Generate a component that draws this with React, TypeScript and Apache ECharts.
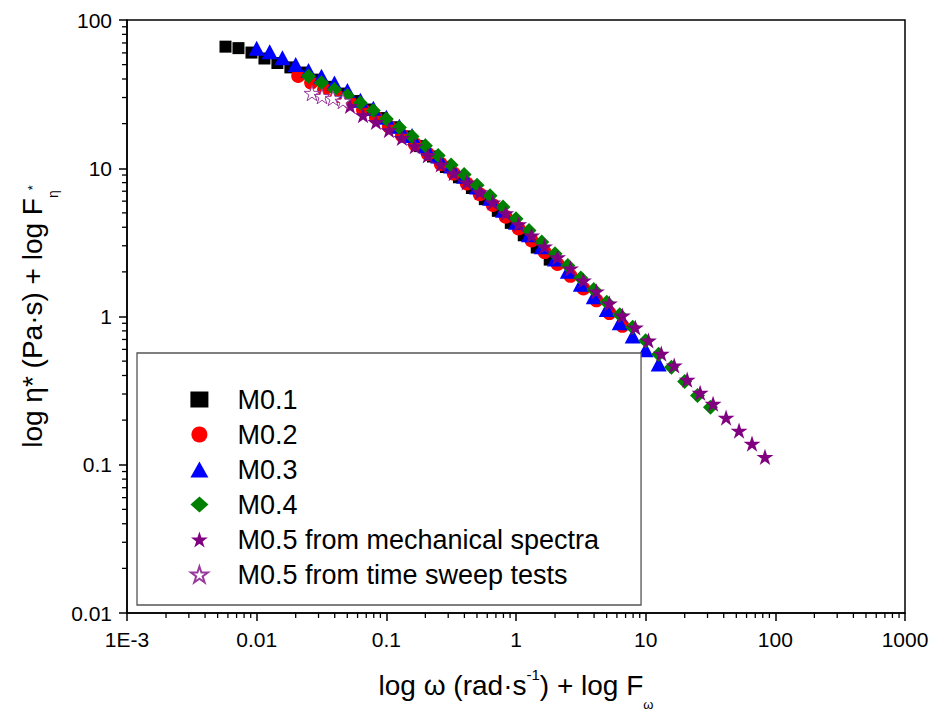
import React, { useEffect, useRef } from "react";
import * as echarts from "echarts";

const xTickLabels = ["1E-3", "0.01", "0.1", "1", "10", "100", "1000"];
const yTickLabels = ["0.01", "0.1", "1", "10", "100"];
const xDecades = [0.001, 0.01, 0.1, 1, 10, 100];
const yDecades = [0.01, 0.1, 1, 10];
const minorFactors = [2, 3, 4, 5, 6, 7, 8, 9];

const seriesNames = [
  "M0.1",
  "M0.2",
  "M0.3",
  "M0.4",
  "M0.5 from mechanical spectra",
  "M0.5 from time sweep tests",
];

const m01X = [0.00575, 0.00724, 0.00912, 0.01148, 0.01445, 0.0182, 0.0229, 0.0288, 0.0363, 0.0457, 0.0575, 0.0724, 0.0912, 0.1148, 0.1445, 0.182, 0.229, 0.288, 0.363, 0.457, 0.575, 0.724, 0.912, 1.148, 1.445, 1.82];
const m01Y = [66.1, 64.6, 60.3, 55.0, 51.3, 47.9, 44.2, 39.6, 35.4, 31.9, 28.4, 24.9, 21.8, 18.9, 16.4, 14.1, 12.0, 10.2, 8.69, 7.36, 6.19, 5.16, 4.28, 3.53, 2.92, 2.42];

const m02X = [0.0209, 0.0263, 0.0331, 0.0417, 0.0525, 0.0661, 0.0832, 0.1047, 0.132, 0.166, 0.209, 0.263, 0.331, 0.417, 0.525, 0.661, 0.832, 1.047, 1.318, 1.66, 2.09, 2.63, 3.31, 4.17, 5.25, 6.61];
const m02Y = [41.9, 37.8, 34.0, 30.7, 27.8, 24.7, 21.9, 19.1, 16.6, 14.5, 12.5, 10.7, 9.2, 7.89, 6.68, 5.65, 4.71, 3.93, 3.26, 2.72, 2.26, 1.88, 1.545, 1.285, 1.054, 0.865];

const m03X = [0.01, 0.0126, 0.0158, 0.02, 0.0251, 0.0316, 0.0398, 0.0501, 0.0631, 0.0794, 0.1, 0.126, 0.158, 0.2, 0.251, 0.316, 0.398, 0.501, 0.631, 0.794, 1, 1.26, 1.58, 2.0, 2.51, 3.16, 3.98, 5.01, 6.31, 7.94, 10, 12.6];
const m03Y = [64.6, 61.0, 55.6, 50.1, 45.7, 41.7, 37.6, 33.5, 28.8, 25.4, 22.1, 19.2, 16.6, 14.2, 12.1, 10.35, 8.83, 7.46, 6.28, 5.21, 4.32, 3.56, 2.95, 2.44, 2.02, 1.65, 1.36, 1.114, 0.908, 0.74, 0.597, 0.479];

const m04X = [0.0251, 0.0316, 0.0398, 0.0501, 0.0631, 0.0794, 0.1, 0.126, 0.158, 0.2, 0.251, 0.316, 0.398, 0.501, 0.631, 0.794, 1, 1.26, 1.58, 2.0, 2.51, 3.16, 3.98, 5.01, 6.31, 7.94, 10, 12.6, 15.8, 20.0, 25.1, 31.6];
const m04Y = [41.7, 37.7, 34.0, 31.0, 27.6, 24.5, 21.5, 18.8, 16.4, 14.2, 12.2, 10.5, 9.06, 7.69, 6.53, 5.47, 4.57, 3.81, 3.18, 2.65, 2.21, 1.82, 1.52, 1.25, 1.028, 0.845, 0.687, 0.556, 0.454, 0.364, 0.293, 0.244];

const m05MechX = [0.0525, 0.0661, 0.0832, 0.1047, 0.1318, 0.166, 0.209, 0.263, 0.331, 0.417, 0.525, 0.661, 0.832, 1.047, 1.318, 1.66, 2.09, 2.63, 3.31, 4.17, 5.25, 6.61, 8.32, 10.5, 13.2, 16.6, 20.9, 26.3, 33.1, 41.7, 52.5, 66.1, 83.2];
const m05MechY = [26.3, 22.8, 20.5, 18.1, 16.0, 14.1, 12.2, 10.6, 9.25, 8.04, 6.89, 5.89, 4.97, 4.19, 3.52, 2.97, 2.51, 2.11, 1.75, 1.476, 1.225, 1.016, 0.843, 0.689, 0.562, 0.467, 0.375, 0.306, 0.258, 0.208, 0.17, 0.139, 0.113];

const m05TsX = [0.0267, 0.0319, 0.0388, 0.0463];
const m05TsY = [32.1, 30.6, 29.7, 28.4];

const STAR =
  "path://M0,-10L2.245,-3.09L9.51,-3.09L3.633,1.18L5.88,8.09L0,3.82L-5.88,8.09L-3.633,1.18L-9.51,-3.09L-2.245,-3.09Z";

const FONT = "'Liberation Sans', Arial, Helvetica, sans-serif";

const zip = (xs: number[], ys: number[]) => xs.map((x, i) => [x, ys[i]]);

export default function App() {
  const ref = useRef<HTMLDivElement>(null);

  useEffect(() => {
    if (!ref.current) return;
    const chart = echarts.init(ref.current, null, { renderer: "svg" });

    const scatterBase = (name: string, data: number[][], symbol: string, size: any, color: string, extra: any = {}) => ({
      name,
      type: "scatter",
      data,
      symbol,
      symbolSize: size,
      symbolKeepAspect: true,
      itemStyle: { color, opacity: 1, ...(extra.itemStyle || {}) },
      emphasis: { disabled: true },
      z: 2,
    });

    const option: any = {
      animation: false,
      backgroundColor: "#ffffff",
      textStyle: { fontFamily: FONT },
      grid: {
        left: 127,
        right: 28,
        top: 20,
        bottom: 104,
        show: true,
        containLabel: false,
        outerBoundsMode: "none",
        borderColor: "#000",
        borderWidth: 1.5,
        backgroundColor: "transparent",
      },
      legend: {
        data: seriesNames,
        orient: "vertical",
        left: 137,
        top: 353,
        itemWidth: 18,
        itemHeight: 16,
        itemGap: 8,
        padding: [33, 42, 17, 53],
        borderColor: "#555",
        borderWidth: 1.3,
        backgroundColor: "#fff",
        selectedMode: false,
        textStyle: {
          fontSize: 27,
          lineHeight: 27,
          color: "#000",
          fontFamily: FONT,
          padding: [0, 0, 0, 24],
        },
      },
      xAxis: {
        type: "log",
        logBase: 10,
        min: 0.001,
        max: 1000,
        splitNumber: 6,
        splitLine: { show: false },
        axisLine: { show: true, lineStyle: { color: "#000", width: 1.5 } },
        axisTick: { show: true, inside: false, length: 8, lineStyle: { color: "#000", width: 1.5 } },
        axisLabel: {
          fontSize: 21,
          color: "#000",
          margin: 16,
          fontFamily: FONT,
          showMinLabel: true,
          showMaxLabel: true,
          formatter: (v: number) => xTickLabels[Math.round(Math.log10(v)) + 3] ?? "",
        },
        name: "log ω (rad·s{sup|-1}) + log F{sub|ω}",
        nameLocation: "middle",
        nameGap: 54,
        nameTextStyle: {
          fontSize: 28,
          color: "#000",
          fontFamily: FONT,
          lineHeight: 36,
          rich: {
            sup: { fontSize: 15, verticalAlign: "top", lineHeight: 36, fontFamily: FONT, color: "#000" },
            sub: { fontSize: 13, verticalAlign: "bottom", lineHeight: 14, padding: [0, 0, -8, 0], fontFamily: FONT, color: "#000" },
          },
        },
      },
      yAxis: {
        type: "log",
        logBase: 10,
        min: 0.01,
        max: 100,
        splitNumber: 4,
        splitLine: { show: false },
        axisLine: { show: true, lineStyle: { color: "#000", width: 1.5 } },
        axisTick: { show: true, inside: false, length: 8, lineStyle: { color: "#000", width: 1.5 } },
        axisLabel: {
          fontSize: 21,
          color: "#000",
          margin: 15,
          fontFamily: FONT,
          showMinLabel: true,
          showMaxLabel: true,
          formatter: (v: number) => yTickLabels[Math.round(Math.log10(v)) + 2] ?? "",
        },
        name: "log η* (Pa·s) + log F{sub|η}{star|*}",
        nameLocation: "middle",
        nameGap: 68,
        nameRotate: 90,
        nameTextStyle: {
          fontSize: 28,
          color: "#000",
          fontFamily: FONT,
          lineHeight: 36,
          rich: {
            sub: { fontSize: 14, verticalAlign: "bottom", lineHeight: 14, padding: [0, 0, -10, 0], fontFamily: FONT, color: "#000" },
            star: { fontSize: 13, verticalAlign: "middle", lineHeight: 14, fontFamily: FONT, color: "#000" },
          },
        },
      },
      series: [
        scatterBase(seriesNames[0], zip(m01X, m01Y), "rect", 12, "#000000"),
        scatterBase(seriesNames[1], zip(m02X, m02Y), "circle", 14, "#ff0000"),
        scatterBase(seriesNames[2], zip(m03X, m03Y), "triangle", [16, 15], "#0000ff"),
        scatterBase(seriesNames[3], zip(m04X, m04Y), "diamond", [15, 15], "#008000"),
        scatterBase(seriesNames[4], zip(m05MechX, m05MechY), STAR, 17, "#800080"),
        scatterBase(seriesNames[5], zip(m05TsX, m05TsY), STAR, 16, "#ffffff", {
          itemStyle: { borderColor: "#9a3a9e", borderWidth: 1 },
        }),
      ],
    };

    chart.setOption(option);

    // minor log ticks (2..9 per decade), positioned through the axes' own scales
    const toPx = (pt: number[]) => chart.convertToPixel({ xAxisIndex: 0, yAxisIndex: 0 }, pt) as number[];
    const tickStyle = { stroke: "#000", lineWidth: 1.3 };
    const minorTicks: any[] = [];
    xDecades.forEach((d) =>
      minorFactors.forEach((f) => {
        const p = toPx([f * d, 0.01]);
        minorTicks.push({
          type: "line",
          silent: true,
          z: 10,
          shape: { x1: p[0], y1: p[1], x2: p[0], y2: p[1] + 5 },
          style: tickStyle,
        });
      })
    );
    yDecades.forEach((d) =>
      minorFactors.forEach((f) => {
        const p = toPx([0.001, f * d]);
        minorTicks.push({
          type: "line",
          silent: true,
          z: 10,
          shape: { x1: p[0], y1: p[1], x2: p[0] - 5, y2: p[1] },
          style: tickStyle,
        });
      })
    );
    chart.setOption({ graphic: minorTicks });

    return () => chart.dispose();
  }, []);

  return (
    <div
      ref={ref}
      style={{ position: "absolute", left: 0, top: 0, width: 933, height: 717, background: "#fff" }}
    />
  );
}
